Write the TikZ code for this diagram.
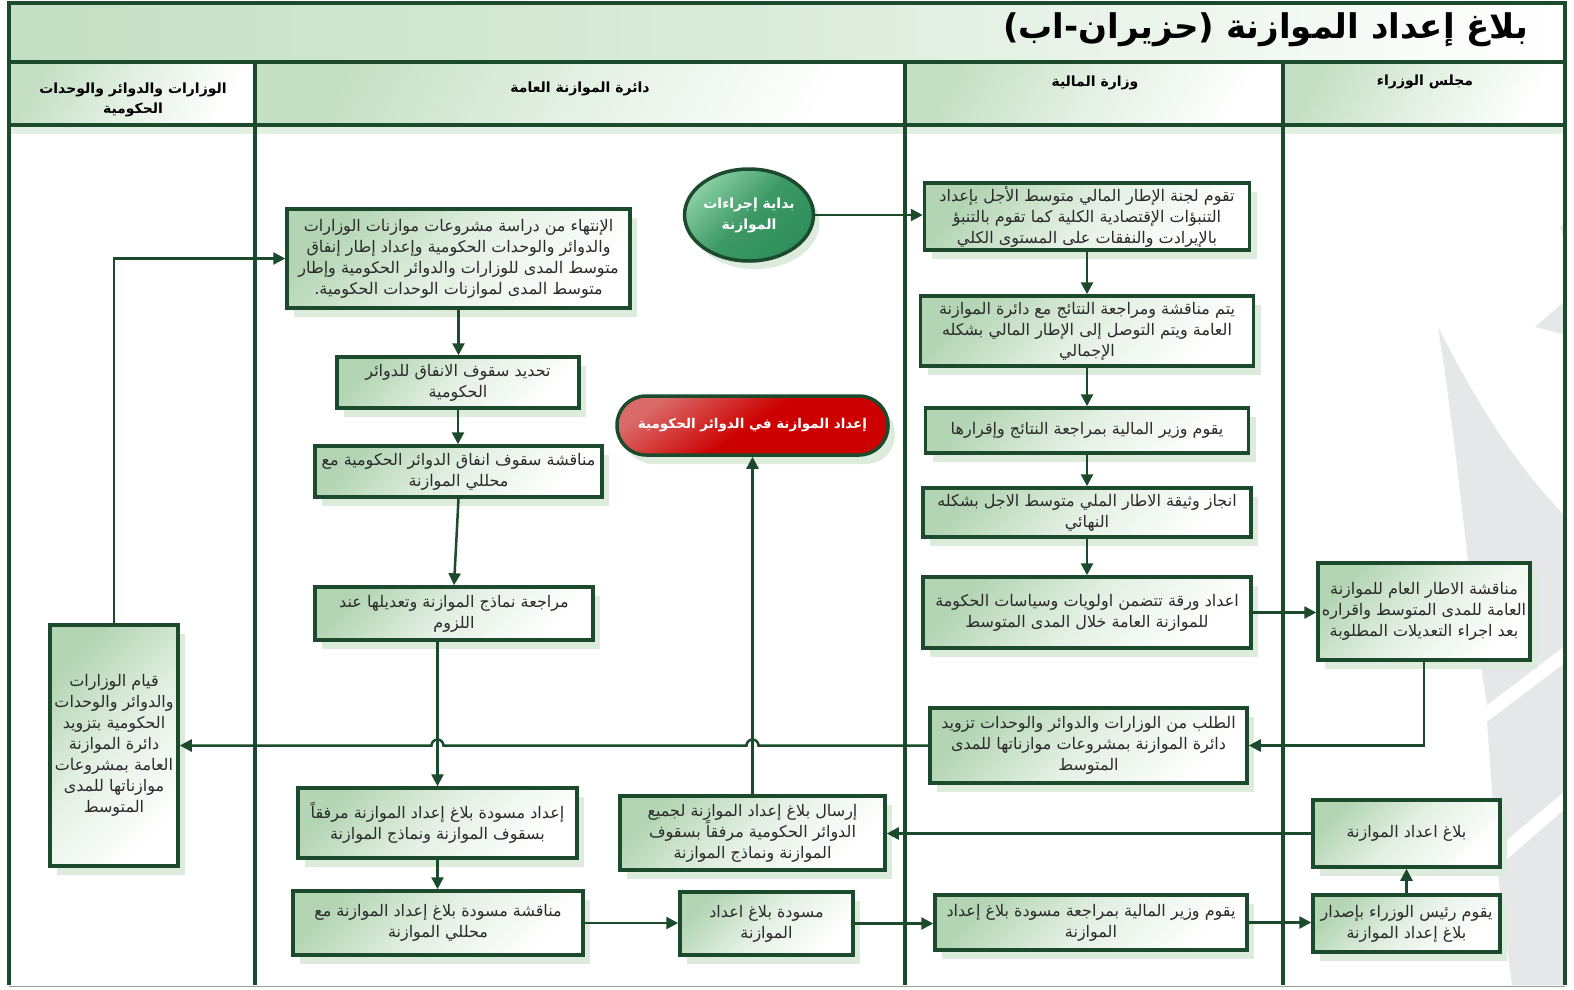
\documentclass[tikz,border=0pt]{standalone}
\usepackage{fontspec}
\usetikzlibrary{arrows.meta,shapes.geometric,shadows,calc}
\newfontfamily\arfont[Script=Arabic]{DejaVu Sans}
\TeXXeTstate=1
\newcommand{\rl}[1]{\beginR #1\endR}
\definecolor{dgreen}{HTML}{1B4B2C}
\definecolor{boxg}{HTML}{B3D5B3}
\definecolor{shg}{HTML}{DCEBDC}
\definecolor{hdrg}{HTML}{C4DFC4}
\definecolor{txt}{HTML}{2A2A2A}
\definecolor{wmark}{HTML}{E6E7E8}
\definecolor{circlt}{HTML}{8ACFA4}
\definecolor{circdk}{HTML}{2F8F5B}
\definecolor{redlt}{HTML}{DA6A68}
\definecolor{reddk}{HTML}{CC0000}

\tikzset{
  lane/.style={draw=dgreen, line width=4pt},
  hdrcell/.style={top color=hdrg, bottom color=white, middle color=hdrg!45, shading angle=60},
  hdrtext/.style={font=\arfont\bfseries\fontsize{14}{20}\selectfont, align=center, text=black},
  box/.style={draw=dgreen, line width=3.5pt, top color=boxg, bottom color=white,
    middle color=boxg!35, shading angle=45, align=center, inner sep=0pt, text=txt,
    font=\arfont\fontsize{16}{21}\selectfont,
    drop shadow={shadow xshift=7pt, shadow yshift=-9pt, fill=shg, opacity=1}},
  startnode/.style={ellipse, draw=dgreen, line width=3.5pt, top color=circlt, bottom color=circdk,
    middle color=circdk!85!circlt, shading angle=45, align=center, inner sep=0pt, text=white,
    font=\arfont\bfseries\fontsize{14}{21}\selectfont,
    drop shadow={shadow xshift=6pt, shadow yshift=-8pt, fill=shg, opacity=1}},
  endnode/.style={draw=dgreen, line width=3.5pt, rounded corners=29pt, top color=redlt, bottom color=reddk,
    middle color=reddk, shading angle=35, align=center, inner sep=0pt, text=white,
    font=\arfont\bfseries\fontsize{13.5}{21}\selectfont,
    drop shadow={shadow xshift=7pt, shadow yshift=-9pt, fill=shg, opacity=1}},
  conn/.style={draw=dgreen, line width=2.5pt, -{Triangle[length=12pt,width=12pt]}},
}

\begin{document}
\begin{tikzpicture}[x=1pt,y=-1pt]
\useasboundingbox (0,0) rectangle (1574,989);
\fill[white] (0,0) rectangle (1574,989);

% faint logo watermark in the cabinet lane
\begin{scope}[fill=wmark]
  \fill (1560,227) -- (1566,221) -- (1566,246) -- cycle;
  \fill (1535,327) -- (1566,300) -- (1566,335) -- cycle;
  \fill (1438,327) .. controls (1480,410) and (1520,470) .. (1566,517)
        -- (1566,645) -- (1487,705) .. controls (1470,600) and (1458,450) .. cycle;
  \fill (1487,722) -- (1566,662) -- (1566,790) -- (1495,850) .. controls (1493,800) and (1490,760) .. cycle;
  \fill (1497,868) -- (1566,808) -- (1566,985) -- (1512,985) -- cycle;
\end{scope}

% title band and header cells
\shade[left color=hdrg, right color=white, middle color=hdrg!60] (9,3) rectangle (1565,61);
\shade[hdrcell] (10,63) rectangle (255,124);
\shade[hdrcell] (255,63) rectangle (905,124);
\shade[hdrcell] (905,63) rectangle (1283,124);
\shade[hdrcell] (1283,63) rectangle (1565,124);
\fill[shg!80] (10,127) rectangle (1564,134);

% frame and swim-lane dividers
\draw[dgreen, line width=3.5pt] (9,985) -- (9,3) -- (1565,3) -- (1565,985);
\draw[gray!50!dgreen!60, line width=1pt] (9,986.5) -- (1565,986.5);
\draw[lane] (9,62) -- (1565,62);
\draw[lane] (9,125) -- (1565,125);
\draw[lane] (255,62) -- (255,985);
\draw[lane] (905,62) -- (905,985);
\draw[lane] (1283,62) -- (1283,985);

% titles
\node[anchor=east, font=\arfont\bfseries\fontsize{34}{40}\selectfont, text=black] (title) at (1532,30)
  {\rl{بلاغ إعداد الموازنة (حزيران-اب)}};
\node[hdrtext] (hd1) at (133,100) {\rl{الوزارات والدوائر والوحدات}\\\rl{الحكومية}};
\node[hdrtext] (hd2) at (580,89) {\rl{دائرة الموازنة العامة}};
\node[hdrtext] (hd3) at (1095,83) {\rl{وزارة المالية}};
\node[hdrtext] (hd4) at (1425,82) {\rl{مجلس الوزراء}};

% Ministry of Finance lane
\node[startnode, minimum width=122pt, minimum height=92pt] (st) at (749,215)
  {\rl{بداية إجراءات}\\\rl{الموازنة}};
\node[box, minimum width=325pt, minimum height=67pt] (A) at (1087,216.5)
  {\rl{تقوم لجنة الإطار المالي متوسط الأجل بإعداد}\\\rl{التنبؤات الإقتصادية الكلية كما تقوم بالتنبؤ}\\\rl{بالإيرادت والنفقات على المستوى الكلي}};
\node[box, minimum width=333pt, minimum height=70pt] (B) at (1087,331)
  {\rl{يتم مناقشة ومراجعة النتائج مع دائرة الموازنة}\\\rl{العامة ويتم التوصل إلى الإطار المالي بشكله}\\\rl{الإجمالي}};
\node[box, minimum width=323pt, minimum height=45pt] (C) at (1087,430.5)
  {\rl{يقوم وزير المالية بمراجعة النتائج وإقرارها}};
\node[box, minimum width=328pt, minimum height=49pt] (D) at (1087,512.5)
  {\rl{انجاز وثيقة الاطار الملي متوسط الاجل بشكله}\\\rl{النهائي}};
\node[box, minimum width=328pt, minimum height=71pt] (E) at (1087,612.5)
  {\rl{اعداد ورقة تتضمن اولويات وسياسات الحكومة}\\\rl{للموازنة العامة خلال المدى المتوسط}};
\node[box, minimum width=317pt, minimum height=75pt] (G) at (1088.5,745.5)
  {\rl{الطلب من الوزارات والدوائر والوحدات تزويد}\\\rl{دائرة الموازنة بمشروعات موازناتها للمدى}\\\rl{المتوسط}};
\node[box, minimum width=312pt, minimum height=55pt] (R) at (1091,922.5)
  {\rl{يقوم وزير المالية بمراجعة مسودة بلاغ إعداد}\\\rl{الموازنة}};

% Council of Ministers lane
\node[box, minimum width=212pt, minimum height=97pt] (F) at (1424,611.5)
  {\rl{مناقشة الاطار العام للموازنة}\\\rl{العامة للمدى المتوسط واقراره}\\\rl{بعد اجراء التعديلات المطلوبة}};
\node[box, minimum width=187pt, minimum height=67pt] (T) at (1406.5,833.5)
  {\rl{بلاغ اعداد الموازنة}};
\node[box, minimum width=187pt, minimum height=57pt] (S) at (1406.5,923.5)
  {\rl{يقوم رئيس الوزراء بإصدار}\\\rl{بلاغ إعداد الموازنة}};

% ministries lane
\node[box, minimum width=128pt, minimum height=241pt] (H) at (114,745.5)
  {\rl{قيام الوزارات}\\\rl{والدوائر والوحدات}\\\rl{الحكومية بتزويد}\\\rl{دائرة الموازنة}\\\rl{العامة بمشروعات}\\\rl{موازناتها للمدى}\\\rl{المتوسط}};

% General Budget Department lane
\node[box, minimum width=343pt, minimum height=99pt] (I) at (458.5,258.5)
  {\rl{الإنتهاء من دراسة مشروعات موازنات الوزارات}\\\rl{والدوائر والوحدات الحكومية وإعداد إطار إنفاق}\\\rl{متوسط المدى للوزارات والدوائر الحكومية وإطار}\\\rl{متوسط المدى لموازنات الوحدات الحكومية.}};
\node[box, minimum width=242pt, minimum height=51pt] (J) at (458,382.5)
  {\rl{تحديد سقوف الانفاق للدوائر}\\\rl{الحكومية}};
\node[box, minimum width=287pt, minimum height=51pt] (K) at (458.5,471.5)
  {\rl{مناقشة سقوف انفاق الدوائر الحكومية مع}\\\rl{محللي الموازنة}};
\node[box, minimum width=278pt, minimum height=53pt] (L) at (454,613.5)
  {\rl{مراجعة نماذج الموازنة وتعديلها عند}\\\rl{اللزوم}};
\node[box, minimum width=279pt, minimum height=70pt] (M) at (437.5,823)
  {\rl{إعداد مسودة بلاغ إعداد الموازنة مرفقاً}\\\rl{بسقوف الموازنة ونماذج الموازنة}};
\node[box, minimum width=290pt, minimum height=64pt] (N) at (438,923)
  {\rl{مناقشة مسودة بلاغ إعداد الموازنة مع}\\\rl{محللي الموازنة}};
\node[box, minimum width=173pt, minimum height=63pt] (O) at (766.5,923.5)
  {\rl{مسودة بلاغ اعداد}\\\rl{الموازنة}};
\node[box, minimum width=265pt, minimum height=74pt] (P) at (752.5,833)
  {\rl{إرسال بلاغ إعداد الموازنة لجميع}\\\rl{الدوائر الحكومية مرفقاً بسقوف}\\\rl{الموازنة ونماذج الموازنة}};
\node[endnode, minimum width=271pt, minimum height=59pt] (Q) at (752.5,425.5)
  {\rl{إعداد الموازنة في الدوائر الحكومية}};

% connectors
\draw[conn] (st.east) -- (st.east -| A.west);
\draw[conn] (A.south) -- (A.south |- B.north);
\draw[conn] (B.south) -- (B.south |- C.north);
\draw[conn] (C.south) -- (C.south |- D.north);
\draw[conn] (D.south) -- (D.south |- E.north);
\draw[conn] (E.east) -- (E.east -| F.west);
\draw[conn] (F.south) |- (G.east);
\coordinate (hopP) at (P.north |- G.west);
\coordinate (hopM) at (M.north |- G.west);
\draw[conn] (G.west) -- ($(hopP)+(6,0)$) arc[start angle=0, end angle=180, radius=6pt]
  -- ($(hopM)+(6,0)$) arc[start angle=0, end angle=180, radius=6pt] -- (H.east |- G.west);
\draw[conn] (H.north) |- (I.west);
\draw[conn] (I.south) -- (I.south |- J.north);
\draw[conn] (J.south) -- (J.south |- K.north);
\draw[conn] (K.south) -- (L.north);
\draw[conn] (L.south -| M.north) -- (M.north);
\draw[conn] (M.south) -- (M.south |- N.north);
\draw[conn] (N.east) -- (N.east -| O.west);
\draw[conn] (O.east) -- (O.east -| R.west);
\draw[conn] (R.east) -- (R.east -| S.west);
\draw[conn] (S.north) -- (S.north |- T.south);
\draw[conn] (T.west) -- (T.west -| P.east);
\draw[conn] (P.north) -- (P.north |- Q.south);
\end{tikzpicture}
\end{document}
